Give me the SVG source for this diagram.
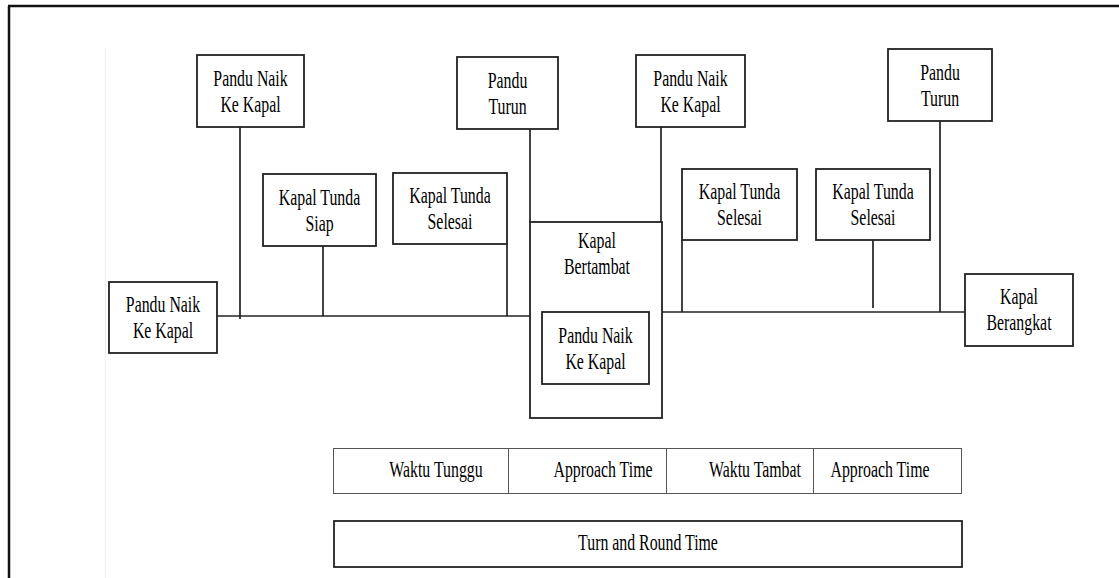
<svg xmlns="http://www.w3.org/2000/svg" width="1119" height="578" viewBox="0 0 1119 578">
<style>
.box{fill:#fff;stroke:#222;stroke-width:1.8}
.cell{fill:#fff;stroke:#555;stroke-width:1}
.lbl{font-family:'Liberation Serif','Times New Roman','DejaVu Serif',serif;font-size:24px;fill:#000;text-anchor:middle}
.con{stroke:#222;stroke-width:1.7;fill:none}
</style>
<rect width="1119" height="578" fill="#fff"/>
<g id="frame">
<line x1="8" y1="6" x2="1119" y2="6" stroke="#111" stroke-width="2.5"/>
<line x1="9" y1="6" x2="9" y2="578" stroke="#111" stroke-width="2.5"/>
<line x1="105.5" y1="48" x2="105.5" y2="578" stroke="#eee" stroke-width="1"/>
</g>
<g id="connectors">
<line class="con" x1="217" y1="316" x2="530" y2="316"/>
<line class="con" x1="662" y1="312" x2="965" y2="312"/>
<line class="con" x1="240" y1="127" x2="240" y2="319"/>
<line class="con" x1="323" y1="246" x2="323" y2="316"/>
<line class="con" x1="507" y1="244" x2="507" y2="316"/>
<line class="con" x1="530" y1="129" x2="530" y2="222"/>
<line class="con" x1="661" y1="127" x2="661" y2="222"/>
<line class="con" x1="682" y1="240" x2="682" y2="312"/>
<line class="con" x1="873" y1="240" x2="873" y2="308"/>
<line class="con" x1="940" y1="121" x2="940" y2="312"/>
</g>
<g id="n-pandu-naik-1">
<rect class="box" x="197" y="55" width="107" height="72"/>
<text class="lbl" transform="translate(250.5,86) scale(0.66,1)">Pandu Naik</text>
<text class="lbl" transform="translate(250.5,112) scale(0.66,1)">Ke Kapal</text>
</g>
<g id="n-pandu-naik-left">
<rect class="box" x="109" y="282" width="108" height="71"/>
<text class="lbl" transform="translate(163,312) scale(0.66,1)">Pandu Naik</text>
<text class="lbl" transform="translate(163,338) scale(0.66,1)">Ke Kapal</text>
</g>
<g id="n-tunda-siap">
<rect class="box" x="263" y="174" width="113" height="72"/>
<text class="lbl" transform="translate(319.5,205) scale(0.66,1)">Kapal Tunda</text>
<text class="lbl" transform="translate(319.5,231) scale(0.66,1)">Siap</text>
</g>
<g id="n-tunda-selesai-1">
<rect class="box" x="393" y="173" width="114" height="71"/>
<text class="lbl" transform="translate(450,203) scale(0.66,1)">Kapal Tunda</text>
<text class="lbl" transform="translate(450,229) scale(0.66,1)">Selesai</text>
</g>
<g id="n-pandu-turun-1">
<rect class="box" x="457" y="57" width="101" height="72"/>
<text class="lbl" transform="translate(507.5,88) scale(0.66,1)">Pandu</text>
<text class="lbl" transform="translate(507.5,114) scale(0.66,1)">Turun</text>
</g>
<g id="n-kapal-bertambat">
<rect class="box" x="530" y="222" width="132" height="196"/>
<text class="lbl" transform="translate(597,248) scale(0.66,1)">Kapal</text>
<text class="lbl" transform="translate(597,274) scale(0.66,1)">Bertambat</text>
</g>
<g id="n-pandu-naik-inner">
<rect class="box" x="542" y="312" width="107" height="72"/>
<text class="lbl" transform="translate(595.5,343) scale(0.66,1)">Pandu Naik</text>
<text class="lbl" transform="translate(595.5,369) scale(0.66,1)">Ke Kapal</text>
</g>
<g id="n-pandu-naik-2">
<rect class="box" x="636" y="55" width="109" height="72"/>
<text class="lbl" transform="translate(690.5,86) scale(0.66,1)">Pandu Naik</text>
<text class="lbl" transform="translate(690.5,112) scale(0.66,1)">Ke Kapal</text>
</g>
<g id="n-tunda-selesai-2">
<rect class="box" x="682" y="169" width="115" height="71"/>
<text class="lbl" transform="translate(739.5,199) scale(0.66,1)">Kapal Tunda</text>
<text class="lbl" transform="translate(739.5,225) scale(0.66,1)">Selesai</text>
</g>
<g id="n-tunda-selesai-3">
<rect class="box" x="816" y="169" width="114" height="71"/>
<text class="lbl" transform="translate(873,199) scale(0.66,1)">Kapal Tunda</text>
<text class="lbl" transform="translate(873,225) scale(0.66,1)">Selesai</text>
</g>
<g id="n-pandu-turun-2">
<rect class="box" x="888" y="49" width="104" height="72"/>
<text class="lbl" transform="translate(940,80) scale(0.66,1)">Pandu</text>
<text class="lbl" transform="translate(940,106) scale(0.66,1)">Turun</text>
</g>
<g id="n-kapal-berangkat">
<rect class="box" x="965" y="274" width="108" height="72"/>
<text class="lbl" transform="translate(1019,304) scale(0.66,1)">Kapal</text>
<text class="lbl" transform="translate(1019,330) scale(0.66,1)">Berangkat</text>
</g>
<g id="time-table">
<rect class="cell" x="333.5" y="448.5" width="175" height="45"/>
<rect class="cell" x="508.5" y="448.5" width="158" height="45"/>
<rect class="cell" x="666.5" y="448.5" width="147" height="45"/>
<rect class="cell" x="813.5" y="448.5" width="148" height="45"/>
<text class="lbl" transform="translate(436,477) scale(0.66,1)">Waktu Tunggu</text>
<text class="lbl" transform="translate(603,477) scale(0.66,1)">Approach Time</text>
<text class="lbl" transform="translate(755,477) scale(0.66,1)">Waktu Tambat</text>
<text class="lbl" transform="translate(880,477) scale(0.66,1)">Approach Time</text>
</g>
<g id="turn-round">
<rect class="box" x="334" y="521" width="628" height="46"/>
<text class="lbl" transform="translate(648,550) scale(0.66,1)">Turn and Round Time</text>
</g>
</svg>
